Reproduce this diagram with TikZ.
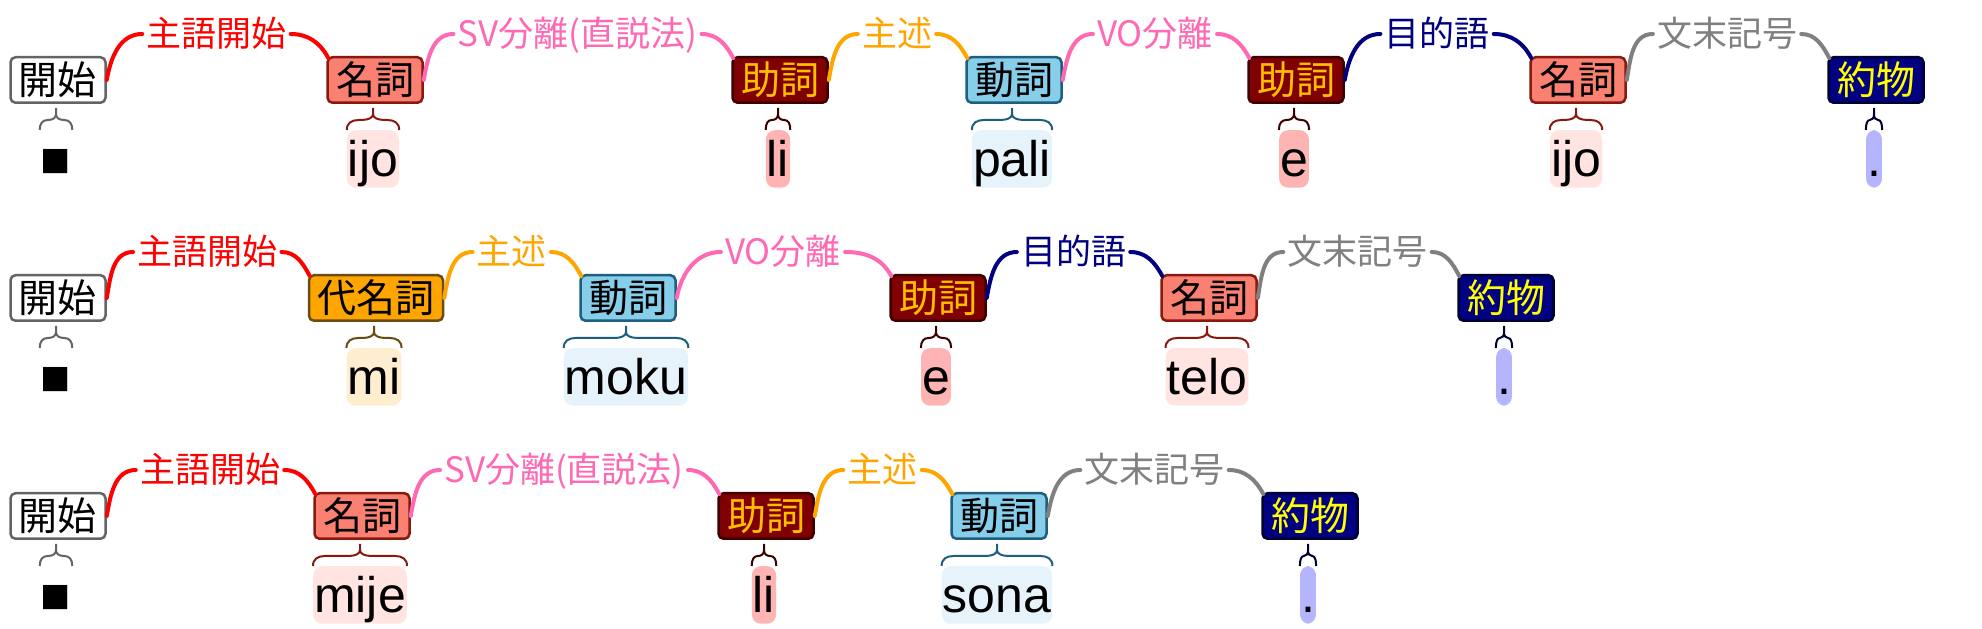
\documentclass[tikz,border=0pt]{standalone}
\usepackage{fontspec}
\newfontfamily\cjk{Noto Sans CJK JP}
\newfontfamily\wordfont{Liberation Sans}
\usetikzlibrary{calc}
\definecolor{startline}{RGB}{100,100,100}
\definecolor{nounfill}{RGB}{250,128,114}
\definecolor{nounline}{RGB}{135,25,15}
\definecolor{nounwfill}{RGB}{255,228,225}
\definecolor{partfill}{RGB}{128,0,0}
\definecolor{partline}{RGB}{60,0,0}
\definecolor{parttext}{RGB}{255,190,0}
\definecolor{partwfill}{RGB}{255,180,180}
\definecolor{verbfill}{RGB}{135,206,235}
\definecolor{verbline}{RGB}{30,95,125}
\definecolor{verbwfill}{RGB}{230,243,250}
\definecolor{pronfill}{RGB}{255,165,0}
\definecolor{pronline}{RGB}{105,75,20}
\definecolor{pronwfill}{RGB}{255,237,207}
\definecolor{punctfill}{RGB}{0,0,128}
\definecolor{punctline}{RGB}{0,0,50}
\definecolor{puncttext}{RGB}{255,255,0}
\definecolor{punctwfill}{RGB}{180,180,255}
\definecolor{subjc}{RGB}{255,0,0}
\definecolor{sepc}{RGB}{255,105,180}
\definecolor{predc}{RGB}{255,165,0}
\definecolor{objc}{RGB}{0,0,128}
\definecolor{endc}{RGB}{128,128,128}
\tikzset{
  posbox/.style={draw, line width=2.5pt, rounded corners=5pt, inner xsep=8.5pt, inner ysep=3.25pt,
    text height=34.3pt, text depth=4.7pt, font=\cjk\fontsize{39}{39}\selectfont},
  wd/.style={rounded corners=9pt, inner xsep=1pt, inner ysep=1pt, text height=45pt, text depth=10.5pt,
    anchor=north, text=black, font=\wordfont\fontsize{50}{50}\selectfont},
  lbl/.style={inner xsep=4pt, inner ysep=0pt, text height=30pt, text depth=5pt,
    font=\cjk\fontsize{35}{35}\selectfont},
  arcline/.style={line width=4pt, line cap=round},
  braceline/.style={line width=2pt},
  startbox/.style={fill=white, draw=startline, text=black},
  startword/.style={minimum width=30pt},
  nounbox/.style={fill=nounfill, draw=nounline, text=black},
  nounword/.style={fill=nounwfill},
  partbox/.style={fill=partfill, draw=partline, text=parttext},
  partword/.style={fill=partwfill},
  verbbox/.style={fill=verbfill, draw=verbline, text=black},
  verbword/.style={fill=verbwfill},
  pronbox/.style={fill=pronfill, draw=pronline, text=black},
  pronword/.style={fill=pronwfill},
  punctbox/.style={fill=punctfill, draw=punctline, text=puncttext},
  punctword/.style={fill=punctwfill},
}
\newcommand\wordbrace[2]{%
  \draw[braceline, #1] let \p1=(#2.north west), \p2=(#2.north east),
    \n1={min(12,0.25*(\x2-\x1))}, \n2={0.5*(\x1+\x2)} in
    (\x1,\y1) .. controls (\x1,\y1+7) and (\x1+0.4*\n1,\y1+10) .. (\x1+\n1,\y1+10) -- (\n2-\n1,\y1+10)
      .. controls (\n2-0.4*\n1,\y1+10) and (\n2,\y1+12) .. (\n2,\y1+16) -- (\n2,\y1+22)
    (\x2,\y1) .. controls (\x2,\y1+7) and (\x2-0.4*\n1,\y1+10) .. (\x2-\n1,\y1+10) -- (\n2+\n1,\y1+10)
      .. controls (\n2+0.4*\n1,\y1+10) and (\n2,\y1+12) .. (\n2,\y1+16);
}
\newcommand\mktok[6]{%
  \node[posbox, #4box] (#1) at (#2,#3) {#5};
  \node[wd, #4word] (#1w) at ($(#1.south)+(-2,-26)$) {#6};
  \wordbrace{#4line}{#1w}%
}
\newcommand\mkarc[5]{%
  \node[lbl, text=#4] (#3) at ($(#1.east)!0.5!(#2.west)+(0,46)$) {#5};
  \draw[arcline, #4] (#1.east) to[out=80,in=180] (#3.west);
  \draw[arcline, #4] (#3.east) to[out=0,in=118] ($(#2.north west)+(2,-2)$);
}
\begin{document}
\begin{tikzpicture}[x=1pt,y=1pt]
\fill[white] (0,0) rectangle (1982,629);
\useasboundingbox (0,0) rectangle (1982,629);
% row 1
\mktok{a1}{58}{549}{start}{開始}{■}
\mktok{a2}{375}{549}{noun}{名詞}{ijo}
\mktok{a3}{780}{549}{part}{助詞}{li}
\mktok{a4}{1014}{549}{verb}{動詞}{pali}
\mktok{a5}{1296}{549}{part}{助詞}{e}
\mktok{a6}{1578}{549}{noun}{名詞}{ijo}
\mktok{a7}{1876}{549}{punct}{約物}{.}
\mkarc{a1}{a2}{la1}{subjc}{主語開始}
\mkarc{a2}{a3}{la2}{sepc}{SV分離(直説法)}
\mkarc{a3}{a4}{la3}{predc}{主述}
\mkarc{a4}{a5}{la4}{sepc}{VO分離}
\mkarc{a5}{a6}{la5}{objc}{目的語}
\mkarc{a6}{a7}{la6}{endc}{文末記号}
% row 2
\mktok{b1}{58}{331}{start}{開始}{■}
\mktok{b2}{376}{331}{pron}{代名詞}{mi}
\mktok{b3}{628}{331}{verb}{動詞}{moku}
\mktok{b4}{938}{331}{part}{助詞}{e}
\mktok{b5}{1209}{331}{noun}{名詞}{telo}
\mktok{b6}{1506}{331}{punct}{約物}{.}
\mkarc{b1}{b2}{lb1}{subjc}{主語開始}
\mkarc{b2}{b3}{lb2}{predc}{主述}
\mkarc{b3}{b4}{lb3}{sepc}{VO分離}
\mkarc{b4}{b5}{lb4}{objc}{目的語}
\mkarc{b5}{b6}{lb5}{endc}{文末記号}
% row 3
\mktok{c1}{58}{113}{start}{開始}{■}
\mktok{c2}{362}{113}{noun}{名詞}{mije}
\mktok{c3}{766}{113}{part}{助詞}{li}
\mktok{c4}{999}{113}{verb}{動詞}{sona}
\mktok{c5}{1310}{113}{punct}{約物}{.}
\mkarc{c1}{c2}{lc1}{subjc}{主語開始}
\mkarc{c2}{c3}{lc2}{sepc}{SV分離(直説法)}
\mkarc{c3}{c4}{lc3}{predc}{主述}
\mkarc{c4}{c5}{lc4}{endc}{文末記号}
\end{tikzpicture}
\end{document}
